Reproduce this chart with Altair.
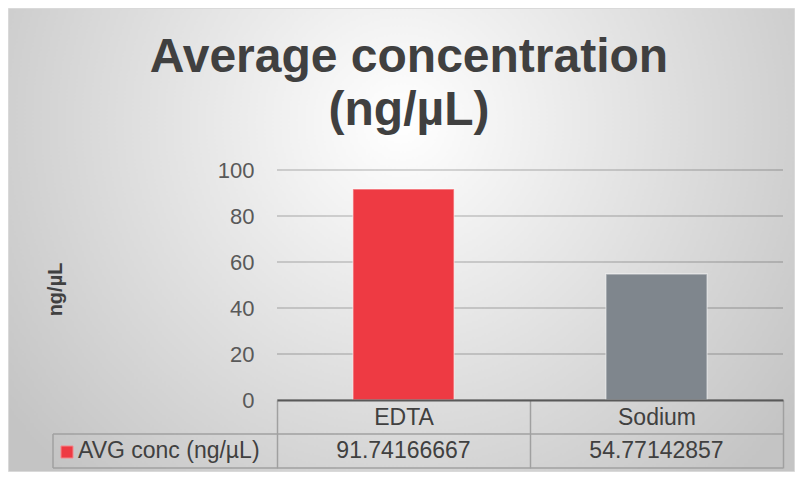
import altair as alt
import pandas as pd

# ---- data ----
categories = ["EDTA", "Sodium"]
values = [91.74166667, 54.77142857]
bar_colors = ["#EE3A43", "#7F868D"]
series_name = "AVG conc (ng/µL)"
title_lines = ["Average concentration", "(ng/µL)"]
y_title = "ng/µL"
y_ticks = [0, 20, 40, 60, 80, 100]

df = pd.DataFrame({"cat": categories, "value": values})
ticks_df = pd.DataFrame({"t": y_ticks})
one = pd.DataFrame({"k": [0]})

W, H = 506, 230
PL, PT, PR, PB = 269, 162, 12, 72
FONT = "Liberation Sans"
TABLE_LINE = "#A0A0A0"

gradient = alt.Gradient(
    gradient="radial",
    x1=0.5, y1=0.35, r1=0,
    x2=0.5, y2=0.35, r2=0.62,
    stops=[alt.GradientStop(offset=0, color="#FFFFFF"),
           alt.GradientStop(offset=1, color="#C4C4C4")],
)

bg = alt.Chart(one).mark_rect(fill=gradient, stroke="#D9D9D9", strokeWidth=1).encode(
    x=alt.value(-PL + 0.5), x2=alt.value(W + PR - 0.5),
    y=alt.value(-PT + 0.5), y2=alt.value(H + PB - 0.5),
)

y_scale = alt.Scale(domain=[0, 100], nice=False)

grid = alt.Chart(ticks_df).mark_rule(color="black", opacity=0.2, strokeWidth=1.3).encode(
    y=alt.Y("t:Q", scale=y_scale),
    x=alt.value(0), x2=alt.value(W),
)

x_enc = alt.X(
    "cat:N", sort=categories, title=None,
    scale=alt.Scale(domain=categories, paddingInner=0, paddingOuter=0),
    axis=alt.Axis(
        labelAngle=0, labelFont=FONT, labelFontSize=23, labelColor="#404040",
        labelBaseline="middle", labelPadding=-51,
        ticks=True, tickBand="extent", tickSize=68, tickColor=TABLE_LINE, tickWidth=1.5,
        domainColor="#595959", domainWidth=2, grid=False, zindex=1,
    ),
)

bars = alt.Chart(df).mark_bar(
    width=alt.RelativeBandSize(0.4), stroke="white", strokeOpacity=0.45, strokeWidth=1.5
).encode(
    x=x_enc,
    y=alt.Y(
        "value:Q",
        scale=y_scale,
        axis=alt.Axis(
            values=y_ticks, title=y_title, titleFont=FONT, titleFontSize=20,
            titleFontWeight="bold", titleColor="#404040", titleAngle=-90,
            titleX=-222, titleY=119, titleAlign="center", titleBaseline="middle",
            labelFont=FONT, labelFontSize=22, labelColor="#595959", labelPadding=23,
            ticks=False, domain=False, grid=False, zindex=1,
        ),
    ),
    color=alt.Color("cat:N", scale=alt.Scale(domain=categories, range=bar_colors), legend=None),
)

def hrule(y, x0, x1):
    return alt.Chart(one).mark_rule(color=TABLE_LINE, strokeWidth=1.5).encode(
        x=alt.value(x0), x2=alt.value(x1), y=alt.value(y))

def vrule(x, y0, y1):
    return alt.Chart(one).mark_rule(color=TABLE_LINE, strokeWidth=1.5).encode(
        x=alt.value(x), y=alt.value(y0), y2=alt.value(y1))

row_top, row_bot = H + 34, H + 68
left_x = -224

lines = hrule(row_top, left_x, W) + hrule(row_bot, left_x, W) + vrule(left_x, row_top, row_bot)

value_text = alt.Chart(df).mark_text(font=FONT, fontSize=23, color="#404040", baseline="middle").encode(
    x=alt.X("cat:N", sort=categories),
    y=alt.value(H + 51),
    text=alt.Text("value:Q", format=".8f"),
)

key = alt.Chart(one).mark_square(size=144, color=bar_colors[0], opacity=1,
                                 stroke="#F5858A", strokeWidth=1).encode(
    x=alt.value(-210), y=alt.value(H + 52))

key_label = alt.Chart(one).mark_text(font=FONT, fontSize=23, color="#404040",
                                     align="left", baseline="middle").encode(
    x=alt.value(-199), y=alt.value(H + 51), text=alt.value(series_name))

title = alt.Chart(one).mark_text(font=FONT, fontSize=48, fontWeight="bold", color="#404040",
                                 align="center", baseline="alphabetic", lineHeight=53).encode(
    x=alt.value(132), y=alt.value(-98), text=alt.value(title_lines))

chart = alt.layer(bg, grid, bars, lines, value_text, key, key_label, title).properties(
    width=W, height=H,
    padding={"left": PL, "top": PT, "right": PR, "bottom": PB},
    autosize=alt.AutoSizeParams(type="none"),
).configure_view(stroke=None)

chart.save("out.html", embed_options={"renderer": "svg", "actions": False})
